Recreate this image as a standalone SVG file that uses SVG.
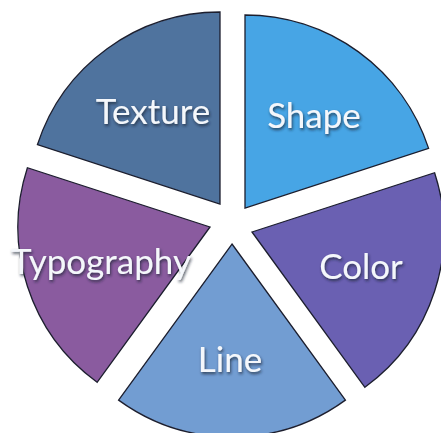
<svg xmlns="http://www.w3.org/2000/svg" width="441" height="433" viewBox="0 0 441 433">
<defs>
<filter id="sh" x="-20%" y="-30%" width="140%" height="170%">
<feDropShadow dx="1" dy="2" stdDeviation="1.6" flood-color="#1a2030" flood-opacity="0.75"/>
</filter>
</defs>
<style>
.w{stroke:#1c1e2e;stroke-width:1.3;stroke-linejoin:miter}
.t{font-family:Lato,"Open Sans","Liberation Sans",sans-serif;font-size:35px;fill:#f4f7fb;text-anchor:middle;filter:url(#sh)}
</style>
<rect width="441" height="433" fill="#ffffff"/>
<g id="texture">
<path class="w" fill="#4f739e" d="M220,204 L220,12 A192,192 0 0 0 37.4,144.7 Z"/>
<text class="t" x="153" y="124">Texture</text>
</g>
<g id="shape">
<path class="w" fill="#47a5e5" d="M245,208 L245,15 A193,193 0 0 1 428.6,148.4 Z"/>
<text class="t" x="314" y="128">Shape</text>
</g>
<g id="color">
<path class="w" fill="#6a60b2" d="M252,232 L434.6,172.7 A192,192 0 0 1 364.9,387.3 Z"/>
<text class="t" x="361" y="279">Color</text>
</g>
<g id="line">
<path class="w" fill="#729dd2" d="M232,244 L345.4,400.1 A193,193 0 0 1 118.6,400.1 Z"/>
<text class="t" x="230" y="372">Line</text>
</g>
<g id="typography">
<path class="w" fill="#8a5b9f" d="M210,227 L97.1,382.3 A192,192 0 0 1 27.4,167.7 Z"/>
<text class="t" x="101" y="274">Typography</text>
</g>
<g id="connectors"/>
</svg>
